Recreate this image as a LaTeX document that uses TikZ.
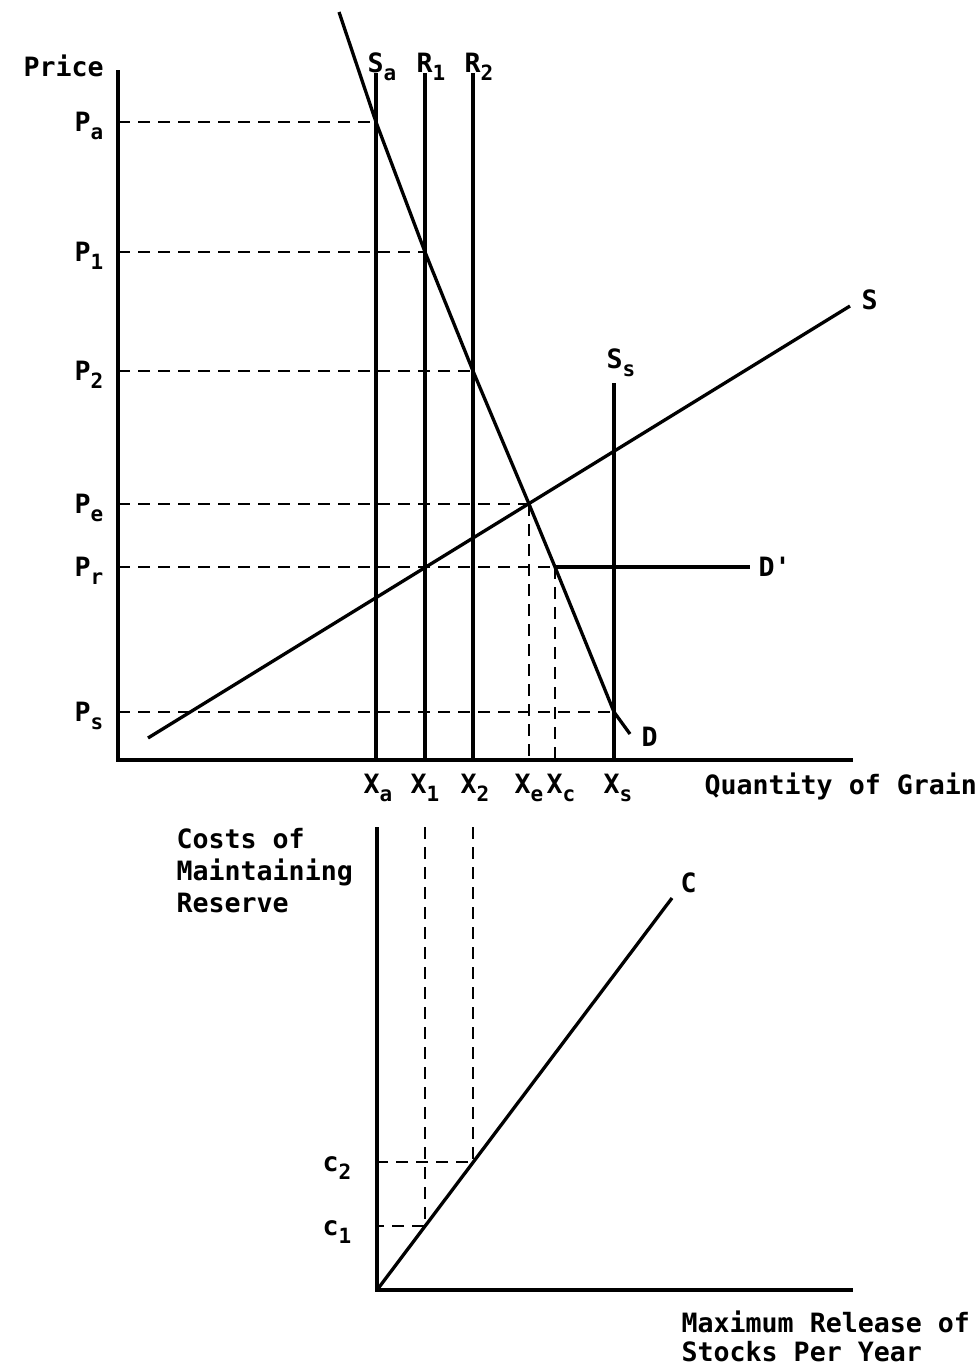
\documentclass[tikz,border=0pt]{standalone}
\usepackage{fontspec}
\setmainfont{DejaVu Sans Mono}
\usetikzlibrary{positioning}
\newcommand{\sbs}[2]{#1\raisebox{-4pt}{\fontsize{10.5}{10.5}\selectfont #2}}

\begin{document}
\begin{tikzpicture}[x=0.5pt, y=-0.5pt, line width=1.65pt,
 every node/.style={font=\fontsize{13.3}{16}\selectfont\bfseries, inner sep=0pt},
 guide/.style={dash pattern=on 6pt off 4pt, line width=1.35pt},
 plab/.style={anchor=base east, yshift=-4.8pt},
 xlab/.style={anchor=base, yshift=-16.5pt},
 tlab/.style={anchor=base, yshift=0.5pt, xshift=3pt}]
\useasboundingbox (0,0) rectangle (977,1371);

% upper panel: price and quantity of grain
\coordinate (o) at (118,760);
\coordinate (ytop) at (118,70);
\coordinate (xend) at (853,760);
\coordinate (xa) at (376,760);  \coordinate (xat) at (376,73);
\coordinate (x1) at (425,760);  \coordinate (x1t) at (425,73);
\coordinate (x2) at (473,760);  \coordinate (x2t) at (473,73);
\coordinate (xe) at (529,760);
\coordinate (xc) at (555,760);
\coordinate (xs) at (614,760);  \coordinate (xst) at (614,383);
\coordinate (pa) at (118,122);
\coordinate (p1) at (118,252);
\coordinate (p2) at (118,371);
\coordinate (pe) at (118,504);
\coordinate (pr) at (118,567);
\coordinate (ps) at (118,712);
% demand curve
\coordinate (dtop) at (339,12);
\coordinate (da) at (376,122);
\coordinate (d1) at (425,252);
\coordinate (d2) at (473,371);
\coordinate (de) at (529,504);
\coordinate (dc) at (555,567);
\coordinate (ds) at (614,712);
\coordinate (dend) at (630,734);
\coordinate (dp) at (750,567);
% supply curve
\coordinate (sbeg) at (148,738);
\coordinate (send) at (850,306);

\draw (ytop) -- (o) -- (xend);
\foreach \a/\b in {xa/xat, x1/x1t, x2/x2t, xs/xst} \draw (\a) -- (\b);
\draw (dtop) -- (da) -- (d1) -- (d2) -- (de) -- (dc) -- (ds) -- (dend);
\draw (sbeg) -- (send);
\draw (dc) -- (dp);
\foreach \a/\b in {pa/da, p1/d1, p2/d2, pe/de, pr/dc, ps/ds} \draw[guide] (\a) -- (\b);
\draw[guide] (de) -- (xe);
\draw[guide] (dc) -- (xc);

\node[anchor=base west] (price) at (22,76) {Price};
\node[tlab] (lsa) at (xat) {\sbs{S}{a}};
\node[tlab] (lr1) at (x1t) {\sbs{R}{1}};
\node[tlab] (lr2) at (x2t) {\sbs{R}{2}};
\node[above=2.5pt of xst, xshift=3.5pt] (lss) {\sbs{S}{s}};
\node[right=5pt of send, yshift=3pt] (ls) {S};
\node[right=5pt of dend, yshift=-1.5pt] (ld) {D};
\node[right=3.5pt of dp] (ldp) {D\textquotesingle};
\node[left=6.5pt of pa, plab] (lpa) {\sbs{P}{a}};
\node[left=6.5pt of p1, plab] (lp1) {\sbs{P}{1}};
\node[left=6.5pt of p2, plab] (lp2) {\sbs{P}{2}};
\node[left=6.5pt of pe, plab] (lpe) {\sbs{P}{e}};
\node[left=6.5pt of pr, plab] (lpr) {\sbs{P}{r}};
\node[left=6.5pt of ps, plab] (lps) {\sbs{P}{s}};
\node[xlab, xshift=1pt] (lxa) at (xa) {\sbs{X}{a}};
\node[xlab] (lx1) at (x1) {\sbs{X}{1}};
\node[xlab, xshift=1pt] (lx2) at (x2) {\sbs{X}{2}};
\node[xlab] (lxe) at (xe) {\sbs{X}{e}};
\node[xlab, xshift=3pt] (lxc) at (xc) {\sbs{X}{c}};
\node[xlab, xshift=2pt] (lxs) at (xs) {\sbs{X}{s}};
\node[anchor=base west] (qty) at (703,794) {Quantity of Grain};

% lower panel: cost of the reserve
\coordinate (o2) at (377,1290);
\coordinate (y2top) at (377,827);
\coordinate (x2end) at (853,1290);
\coordinate (cend) at (672,898);
\coordinate (x1b) at (425,827);
\coordinate (x2b) at (473,827);
\coordinate (k1) at (425,1226);
\coordinate (k2) at (473,1162);
\coordinate (c1) at (377,1226);
\coordinate (c2) at (377,1162);

\draw (y2top) -- (o2) -- (x2end);
\draw (o2) -- (cend);
\draw[guide] (x1b) -- (k1) -- (c1);
\draw[guide] (x2b) -- (k2) -- (c2);

\node[left=12pt of c1, plab] (lc1) {\sbs{c}{1}};
\node[left=12pt of c2, plab] (lc2) {\sbs{c}{2}};
\node[above right=1.5pt and 3.5pt of cend] (lc) {C};
\node[anchor=north west, align=left] (cost) at (175,827) {Costs of\\Maintaining\\Reserve};
\node[anchor=north west, align=left, font=\fontsize{13.3}{14.5}\selectfont\bfseries] (rel) at (680,1309)
 {Maximum Release of\\Stocks Per Year};
\end{tikzpicture}
\end{document}
